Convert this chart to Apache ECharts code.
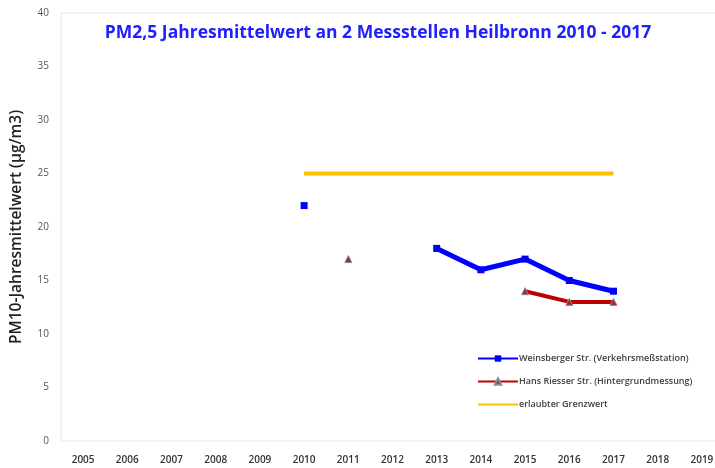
<!DOCTYPE html>
<html>
<head>
<meta charset="utf-8">
<script src="https://cdn.jsdelivr.net/npm/echarts@6/dist/echarts.min.js"></script>
<style>
  html, body { margin: 0; padding: 0; background: #fff; }
  #chart { width: 715px; height: 468px; }
</style>
</head>
<body>
<div id="chart"></div>
<script>
const years = ['2005', '2006', '2007', '2008', '2009', '2010', '2011', '2012',
  '2013', '2014', '2015', '2016', '2017', '2018', '2019'];
const weinsberger = [null, null, null, null, null, 22, null, null, 18, 16, 17, 15, 14, null, null];
const hansRiesser = [null, null, null, null, null, null, 17, null, null, null, 14, 13, 13, null, null];
const grenzwert = [null, null, null, null, null, 25, 25, 25, 25, 25, 25, 25, 25, null, null];

const chart = echarts.init(document.getElementById('chart'));

const option = {
  animation: false,
  title: {
    text: 'PM2,5 Jahresmittelwert an 2 Messstellen Heilbronn 2010 - 2017',
    left: 373,
    top: 19,
    textAlign: 'center',
    textStyle: {
      color: '#2020ff',
      fontFamily: 'Open Sans',
      fontSize: 17.5,
      fontWeight: 'bold'
    }
  },
  legend: {
    orient: 'vertical',
    left: 472,
    top: 349,
    itemWidth: 40,
    itemHeight: 8,
    itemGap: 14,
    textStyle: {
      color: '#404040',
      fontFamily: 'Open Sans',
      fontSize: 9,
      fontWeight: 600,
      padding: [0, 0, 0, -4]
    },
    data: [
      { name: 'Weinsberger Str. (Verkehrsmeßstation)' },
      { name: 'Hans Riesser Str. (Hintergrundmessung)' },
      { name: 'erlaubter Grenzwert', itemStyle: { opacity: 0 } }
    ]
  },
  grid: {
    left: 61,
    width: 663,
    top: 13,
    bottom: 27,
    outerBoundsMode: 'none',
    show: true,
    borderColor: '#e6e6e6',
    borderWidth: 1
  },
  xAxis: {
    type: 'category',
    data: years,
    boundaryGap: true,
    axisLine: { show: false },
    axisTick: { show: false },
    axisLabel: {
      color: '#333',
      fontFamily: 'Open Sans',
      fontSize: 10,
      fontWeight: 600,
      margin: 14
    },
    splitLine: { show: false }
  },
  yAxis: {
    type: 'value',
    min: 0,
    max: 40,
    interval: 5,
    name: 'PM10-Jahresmittelwert (µg/m3)',
    nameLocation: 'middle',
    nameGap: 36,
    nameTextStyle: {
      color: '#222',
      fontFamily: 'Open Sans',
      fontSize: 15.5,
      fontWeight: 600
    },
    axisLine: { show: false },
    axisTick: { show: false },
    axisLabel: {
      color: '#555',
      fontFamily: 'Open Sans',
      fontSize: 10,
      margin: 12
    },
    splitLine: { show: false }
  },
  series: [
    {
      name: 'Weinsberger Str. (Verkehrsmeßstation)',
      type: 'line',
      data: weinsberger,
      connectNulls: false,
      symbol: 'rect',
      symbolSize: 7,
      showAllSymbol: true,
      itemStyle: { color: '#0000ff' },
      lineStyle: { color: '#0000ff', width: 5 }
    },
    {
      name: 'Hans Riesser Str. (Hintergrundmessung)',
      type: 'line',
      data: hansRiesser,
      connectNulls: false,
      symbol: 'triangle',
      symbolSize: 7,
      showAllSymbol: true,
      itemStyle: { color: '#b22020', borderColor: '#8090a0', borderWidth: 1 },
      lineStyle: { color: '#c00000', width: 4 }
    },
    {
      name: 'erlaubter Grenzwert',
      type: 'line',
      data: grenzwert,
      symbol: 'none',
      itemStyle: { color: '#ffc000' },
      lineStyle: { color: '#ffc000', width: 4 }
    }
  ]
};

chart.setOption(option);
</script>
</body>
</html>
